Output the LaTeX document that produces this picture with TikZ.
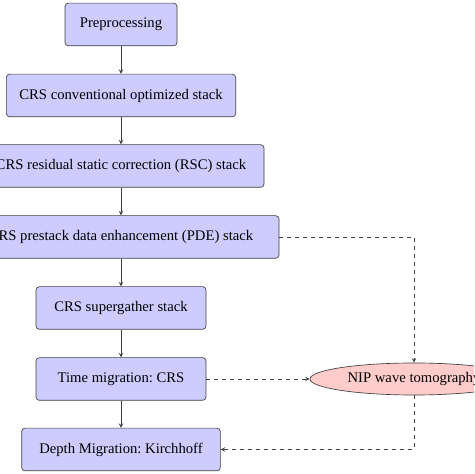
\documentclass[tikz,border=0pt]{standalone}
\usepackage{fontspec}
\setmainfont{Liberation Serif}
\usetikzlibrary{shapes.geometric}
\begin{document}
\begin{tikzpicture}[x=0.75pt,y=0.75pt,>=stealth,
    stage/.style={draw=black!75,fill=blue!20,rounded corners=2.5pt,minimum height=32pt,inner xsep=6pt,font=\fontsize{11}{13}\selectfont,line width=0.5pt},
    tomo/.style={ellipse,draw=black!75,fill=red!20,minimum width=156pt,minimum height=24pt,inner sep=1pt,font=\fontsize{11}{13}\selectfont,line width=0.5pt},
    flow/.style={->,draw=black!75,line width=0.5pt},
    feed/.style={->,dashed,draw=black!75,line width=0.5pt}]
  \clip (0,0) rectangle (474,474);
  \node[stage,minimum width=84pt] (pre) at (121,449.5) {Preprocessing};
  \node[stage,minimum width=172pt] (conv) at (121,378.5) {CRS conventional optimized stack};
  \node[stage,minimum width=214.5pt] (rsc) at (121,308) {CRS residual static correction (RSC) stack};
  \node[stage,minimum width=237pt] (pde) at (121,237) {CRS prestack data enhancement (PDE) stack};
  \node[stage,minimum width=127.5pt] (sup) at (121,166) {CRS supergather stack};
  \node[stage,minimum width=127.5pt] (time) at (121,95) {Time migration:\ CRS};
  \node[stage,minimum width=149pt] (depth) at (121,24.5) {Depth Migration:\ Kirchhoff};
  \node[tomo] (nip) at (414,95) {NIP wave tomography};
  % main chain
  \draw[flow] (pre) -- (conv);
  \draw[flow] (conv) -- (rsc);
  \draw[flow] (rsc) -- (pde);
  \draw[flow] (pde) -- (sup);
  \draw[flow] (sup) -- (time);
  \draw[flow] (time) -- (depth);
  % tomography loop
  \draw[feed] (pde.east) -| (nip.north);
  \draw[feed] (time.east) -- (nip.west);
  \draw[feed] (nip.south) |- (depth.east);
\end{tikzpicture}
\end{document}
